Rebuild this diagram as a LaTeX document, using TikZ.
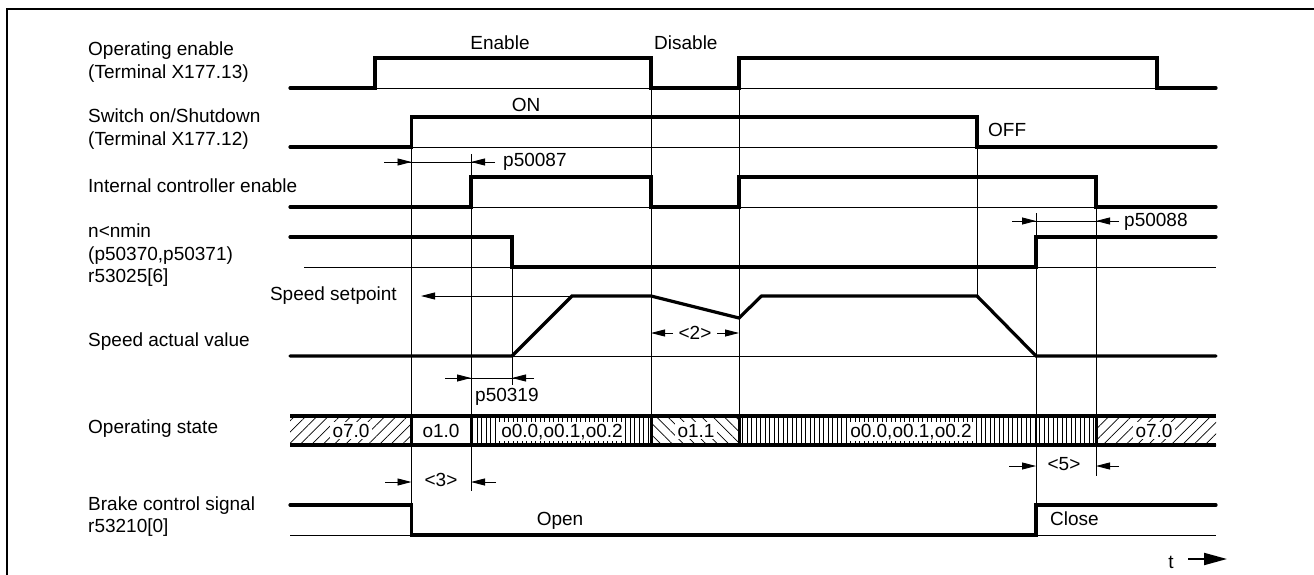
\documentclass[tikz,border=0pt]{standalone}
\usepackage{fontspec}
\setmainfont{Liberation Sans}
\usetikzlibrary{arrows.meta, patterns.meta}

\begin{document}
\begin{tikzpicture}[
    x=1pt, y=-1pt,
    lbl/.style={anchor=north west, inner sep=0pt, align=left, font=\fontsize{19}{22.5}\selectfont},
    txt/.style={anchor=base, inner sep=0pt, font=\fontsize{19}{22.5}\selectfont},
    statetxt/.style={txt, fill=white, inner xsep=2.5pt, inner ysep=2pt},
    sig/.style={line width=3.2pt, line cap=round},
    base/.style={line width=0.9pt},
    guide/.style={line width=0.9pt},
    dim/.style={line width=0.9pt, -{Triangle[length=14pt,width=7pt]}},
    bar/.style={line width=4pt},
    sep/.style={line width=3pt},
    hatchr/.style={pattern={Lines[angle=45,distance=8pt,line width=0.7pt]}},
    hatchl/.style={pattern={Lines[angle=-45,distance=8pt,line width=0.7pt]}},
    hatchv/.style={pattern={Lines[angle=90,distance=4.5pt,line width=0.8pt]}}
]
\useasboundingbox (0,0) rectangle (1314,575);

% Frame
\draw[line width=2pt] (7,575) -- (7,9.5) -- (1314,9.5);

% Signal names
\node[lbl] (oplbl) at (88,42) {Operating enable\\(Terminal X177.13)};
\node[lbl] (swlbl) at (88,109) {Switch on/Shutdown\\(Terminal X177.12)};
\node[lbl] (icelbl) at (88,179) {Internal controller enable};
\node[lbl] (nminlbl) at (88,224) {n<nmin\\(p50370,p50371)\\r53025[6]};
\node[txt, anchor=base east] (setlbl) at (397,300.5) {Speed setpoint};
\node[lbl] (spdlbl) at (88,332.5) {Speed actual value};
\node[lbl] (statelbl) at (88,420) {Operating state};
\node[lbl] (brklbl) at (88,496.5) {Brake control signal\\r53210[0]};

% Guide lines
\draw[guide] (411.5,147) -- (411.5,505);
\draw[guide] (471,154) -- (471,491);
\draw[guide] (512,267) -- (512,385);
\draw[guide] (651,88) -- (651,416);
\draw[guide] (739,88) -- (739,416);
\draw[guide] (977,147) -- (977,296);
\draw[guide] (1036,213) -- (1036,505);
\draw[guide] (1096,207) -- (1096,476);

% Base lines
\draw[base] (290,88) -- (1216,88);
\draw[base] (290,147) -- (1216,147);
\draw[base] (290,207) -- (1216,207);
\draw[base] (304,267) -- (1216,267);
\draw[base] (290,356) -- (1216,356);
\draw[base] (290,535) -- (1216,535);

% Signals
\draw[sig] (290,88) -| (375,58) -| (651,88) -| (739,58) -| (1157,88) -- (1216,88);
\draw[sig] (290,147) -| (411.5,117) -| (977,147) -- (1216,147);
\draw[sig] (290,207) -| (471,177) -| (651,207) -| (739,177) -| (1096,207) -- (1216,207);
\draw[sig] (290,237) -| (512,267) -| (1036,237) -- (1216,237);
\draw[sig] (290,356) -- (512,356) -- (572,296) -- (651,296) -- (739,318)
    -- (761.5,296) -- (977,296) -- (1036,356) -- (1216,356);
\draw[sig] (290,505) -| (411.5,535) -| (1036,505) -- (1216,505);

% Signal texts
\node[txt] (enable) at (500,50) {Enable};
\node[txt, anchor=base west] (disable) at (654,50) {Disable};
\node[txt] (on) at (526,111.5) {ON};
\node[txt, anchor=base west] (off) at (988,137) {OFF};
\node[txt] (open) at (560,525.5) {Open};
\node[txt, anchor=base west] (close) at (1050,525.5) {Close};

% Times
\draw[base] (384,162) -- (495,162);
\draw[dim] (384,162) -- (411.5,162);
\draw[dim] (495,162) -- (471,162);
\node[txt, anchor=base west] (p87) at (503,166.5) {p50087};

\draw[base] (1012,221) -- (1119,221);
\draw[dim] (1012,221) -- (1036,221);
\draw[dim] (1119,221) -- (1096,221);
\node[txt, anchor=base west] (p88) at (1124,226.5) {p50088};

\draw[dim] (572,296) -- (421,296);

\draw[dim] (673,333) -- (651,333);
\draw[dim] (717,333) -- (739,333);
\node[txt] (d2) at (695,339) {<2>};

\draw[base] (445,378) -- (534,378);
\draw[dim] (445,378) -- (471,378);
\draw[dim] (534,378) -- (512,378);
\node[txt, anchor=base west] (p319) at (475,401.5) {p50319};

\draw[dim] (385,482) -- (411.5,482);
\draw[dim] (496,482) -- (471,482);
\node[txt] (d3) at (441,486) {<3>};

\draw[dim] (1009,466) -- (1036,466);
\draw[dim] (1119,466) -- (1096,466);
\node[txt] (d5) at (1064,470.5) {<5>};

% Operating state
\fill[hatchr] (290,416) rectangle (411.5,445);
\fill[hatchv] (471,416) rectangle (651,445);
\fill[hatchl] (651,416) rectangle (739,445);
\fill[hatchv] (739,416) rectangle (1096,445);
\fill[hatchr] (1096,416) rectangle (1216,445);
\node[statetxt] (s70a) at (351,437) {o7.0};
\node[statetxt] (s10) at (441,437) {o1.0};
\node[statetxt] (s00a) at (562,437) {o0.0,o0.1,o0.2};
\node[statetxt] (s11) at (696,437) {o1.1};
\node[statetxt] (s00b) at (911,437) {o0.0,o0.1,o0.2};
\node[statetxt] (s70b) at (1154,437) {o7.0};
\draw[bar] (290,416) -- (1216,416);
\draw[bar] (290,445) -- (1216,445);
\foreach \xs in {411.5,471,651,739,1096}
    \draw[sep] (\xs,416) -- (\xs,445);

% Time axis
\node[txt] (tlbl) at (1171,568) {t};
\draw[line width=2pt, -{Triangle[length=23pt,width=12pt]}] (1188,559) -- (1227,559);

\end{tikzpicture}
\end{document}
